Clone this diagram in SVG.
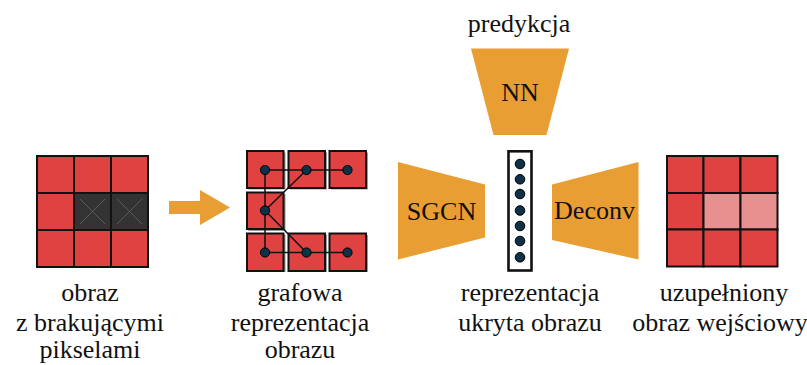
<svg xmlns="http://www.w3.org/2000/svg" width="807" height="365" viewBox="0 0 807 365">
  <style>
    .cell { fill: #E04242; stroke: #111; stroke-width: 2; }
    .dark { fill: #333333; stroke: #111; stroke-width: 2; }
    .pale { fill: #E89090; stroke: #111; stroke-width: 2; }
    .cross { stroke: #5a5a5a; stroke-width: 1; }
    .box { fill: #E04242; stroke: #111; stroke-width: 2; }
    .shadow { fill: #9a9a9a; }
    .node { fill: #0E3147; stroke: #000; stroke-width: 1; }
    .edge { stroke: #111; stroke-width: 1.5; fill: none; }
    .block { fill: #E89E33; }
    text { font-family: "Liberation Serif", "Noto Serif", "DejaVu Serif", Tinos, "Nimbus Roman", "FreeSerif", Times, Georgia, serif; font-size: 26px; fill: #111; text-anchor: middle; }
  </style>

  <!-- input image with missing pixels -->
  <g id="input-image">
    <rect class="cell" x="37" y="156" width="37" height="37"/>
    <rect class="cell" x="74" y="156" width="37" height="37"/>
    <rect class="cell" x="111" y="156" width="37" height="37"/>
    <rect class="cell" x="37" y="193" width="37" height="37"/>
    <rect class="dark" x="74" y="193" width="37" height="37"/>
    <rect class="dark" x="111" y="193" width="37" height="37"/>
    <rect class="cell" x="37" y="230" width="37" height="37"/>
    <rect class="cell" x="74" y="230" width="37" height="37"/>
    <rect class="cell" x="111" y="230" width="37" height="37"/>
    <path class="cross" d="M80 199 L105 224 M105 199 L80 224 M117 199 L142 224 M142 199 L117 224"/>
    <text x="90" y="301">obraz</text>
    <text x="90" y="331">z brakującymi</text>
    <text x="90" y="358">pikselami</text>
  </g>

  <!-- transition arrow -->
  <g id="arrow">
    <polygon class="block" points="169,201 200,201 200,190 230,207.5 200,225 200,214 169,214"/>
  </g>

  <!-- graph representation of the image -->
  <g id="graph-image">
    <rect class="shadow" x="248.5" y="152.5" width="37" height="37"/>
    <rect class="shadow" x="290" y="152.5" width="37" height="37"/>
    <rect class="shadow" x="331" y="152.5" width="37" height="37"/>
    <rect class="shadow" x="248.5" y="194" width="37" height="37"/>
    <rect class="shadow" x="248.5" y="235" width="37" height="37"/>
    <rect class="shadow" x="290" y="235" width="37" height="37"/>
    <rect class="shadow" x="331" y="235" width="37" height="37"/>
    <rect class="box" x="247" y="151" width="36.5" height="37"/>
    <rect class="box" x="288.5" y="151" width="36.5" height="37"/>
    <rect class="box" x="329.5" y="151" width="36.5" height="37"/>
    <rect class="box" x="247" y="192.5" width="36.5" height="36.5"/>
    <rect class="box" x="247" y="233.5" width="36.5" height="37.5"/>
    <rect class="box" x="288.5" y="233.5" width="36.5" height="37.5"/>
    <rect class="box" x="329.5" y="233.5" width="36.5" height="37.5"/>
  </g>

  <!-- graph edges -->
  <g id="connectors">
    <path class="edge" d="M265 170 L347.5 170"/>
    <path class="edge" d="M265 170 L265 252.5"/>
    <path class="edge" d="M306.5 170 L265 210.5"/>
    <path class="edge" d="M265 210.5 L306.5 252.5"/>
    <path class="edge" d="M265 252.5 L347.5 252.5"/>
  </g>

  <g id="graph-nodes">
    <circle class="node" cx="265" cy="170" r="4.6"/>
    <circle class="node" cx="306.5" cy="170" r="4.6"/>
    <circle class="node" cx="347.5" cy="170" r="4.6"/>
    <circle class="node" cx="265" cy="210.5" r="4.6"/>
    <circle class="node" cx="265" cy="252.5" r="4.6"/>
    <circle class="node" cx="306.5" cy="252.5" r="4.6"/>
    <circle class="node" cx="347.5" cy="252.5" r="4.6"/>
    <text x="300" y="301">grafowa</text>
    <text x="300" y="331">reprezentacja</text>
    <text x="300" y="358">obrazu</text>
  </g>

  <!-- encoder -->
  <g id="sgcn">
    <polygon class="block" points="398,162 485,184.5 485,237.5 398,259.5"/>
    <text x="441.5" y="219.5">SGCN</text>
  </g>

  <!-- latent vector -->
  <g id="latent">
    <rect x="508.5" y="151.3" width="23" height="119.2" fill="#fff" stroke="#111" stroke-width="2.6"/>
    <circle class="node" cx="520" cy="164" r="4.8"/>
    <circle class="node" cx="520" cy="179.3" r="4.8"/>
    <circle class="node" cx="520" cy="194" r="4.8"/>
    <circle class="node" cx="520" cy="210.5" r="4.8"/>
    <circle class="node" cx="520" cy="226" r="4.8"/>
    <circle class="node" cx="520" cy="241" r="4.8"/>
    <circle class="node" cx="520" cy="257.3" r="4.8"/>
    <text x="530" y="301">reprezentacja</text>
    <text x="530" y="331">ukryta obrazu</text>
  </g>

  <!-- prediction head -->
  <g id="nn">
    <polygon class="block" points="471,48.5 569,48.5 546.5,135 493.5,135"/>
    <text x="520" y="100.5">NN</text>
    <text x="519" y="32">predykcja</text>
  </g>

  <!-- decoder -->
  <g id="deconv">
    <polygon class="block" points="552,184.5 638.5,162 638.5,259.5 552,240"/>
    <text x="594.5" y="218.5">Deconv</text>
  </g>

  <!-- reconstructed image -->
  <g id="output-image">
    <rect class="cell" x="667" y="156" width="36.5" height="37"/>
    <rect class="cell" x="703.5" y="156" width="37" height="37"/>
    <rect class="cell" x="740.5" y="156" width="37" height="37"/>
    <rect class="cell" x="667" y="193" width="36.5" height="36.5"/>
    <rect class="pale" x="703.5" y="193" width="37" height="36.5"/>
    <rect class="pale" x="740.5" y="193" width="37" height="36.5"/>
    <rect class="cell" x="667" y="229.5" width="36.5" height="37"/>
    <rect class="cell" x="703.5" y="229.5" width="37" height="37"/>
    <rect class="cell" x="740.5" y="229.5" width="37" height="37"/>
    <text x="724" y="301">uzupełniony</text>
    <text x="720" y="331">obraz wejściowy</text>
  </g>
</svg>
